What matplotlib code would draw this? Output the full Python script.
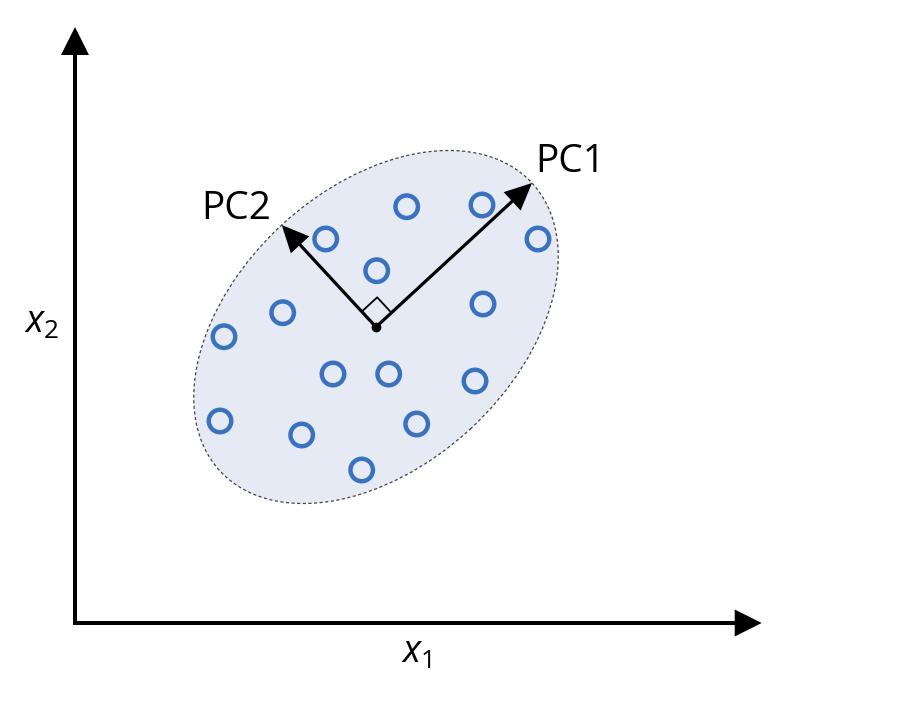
import numpy as np
import matplotlib
matplotlib.use("Agg")
import matplotlib.pyplot as plt
from matplotlib.patches import Ellipse, FancyArrow

plt.rcParams['font.family'] = ['Open Sans', 'DejaVu Sans']
plt.rcParams['mathtext.fontset'] = 'custom'
plt.rcParams['mathtext.it'] = 'Open Sans:italic'
plt.rcParams['mathtext.rm'] = 'Open Sans'

# Data points (x1, x2)
x1_vals = [331.7, 407, 463, 250.7, 301.7, 408, 207.7, 149, 258, 313.7, 400, 145, 226.7, 341.7, 286.7]
x2_vals = [416.3, 418, 384, 384, 352.3, 319, 310.3, 286.3, 249, 249, 242, 202, 188, 199, 153]

# Principal components
center = (301, 296)
pc1_tip = (457, 440)
pc2_tip = (206.7, 398)
pc_labels = ["PC1", "PC2"]
axis_labels = [r"$x_1$", r"$x_2$"]

fig = plt.figure(figsize=(9.02, 7.18), dpi=100)
ax = fig.add_axes([0, 0, 1, 1])
ax.set_xlim(-75, 827)
ax.set_ylim(-95, 623)
ax.axis('off')

# ellipse
d1 = np.array(pc1_tip) - np.array(center)
d2 = np.array(pc2_tip) - np.array(center)
a = np.hypot(*d1)
b = np.hypot(*d2)
ang = np.degrees(np.arctan2(d1[1], d1[0]))
ell = Ellipse(center, 2 * a, 2 * b, angle=ang, facecolor='#E5EAF5',
              edgecolor='#444444', lw=0.9, linestyle=(0, (2.5, 2)), zorder=1)
ax.add_patch(ell)

# axes arrows
ax.add_patch(FancyArrow(0, 0, 0, 596, width=4, head_width=28, head_length=28,
                        length_includes_head=True, color='black', lw=0, zorder=3))
ax.add_patch(FancyArrow(-2, 0, 688.7, 0, width=4, head_width=27, head_length=27,
                        length_includes_head=True, color='black', lw=0, zorder=3))

# data circles
ax.scatter(x1_vals, x2_vals, s=262, facecolors='none', edgecolors='#3A72BF',
           linewidths=3.2, zorder=4)

# PC arrows
for d in (d1, d2):
    ax.add_patch(FancyArrow(center[0], center[1], d[0], d[1], width=3.2,
                            head_width=25, head_length=27, length_includes_head=True,
                            color='black', lw=0, zorder=5))

# right-angle marker
u1 = d1 / a
u2 = d2 / b
s = 21
c = np.array(center)
pts = np.array([c + s * u1, c + s * (u1 + u2), c + s * u2])
ax.plot(pts[:, 0], pts[:, 1], color='black', lw=1.3, zorder=5)

# center dot
ax.scatter([center[0]], [center[1]], s=36, color='black', zorder=6)

# labels
ax.text(460, 451.3, pc_labels[0], fontsize=28, ha='left', va='baseline', color='black')
ax.text(126.7, 403.7, pc_labels[1], fontsize=28, ha='left', va='baseline', color='black')
ax.text(341.5, -40, axis_labels[0], fontsize=27, ha='center', va='baseline')
ax.text(-33.5, 290, axis_labels[1], fontsize=27, ha='center', va='baseline')

fig.savefig('out.png', dpi=100)
